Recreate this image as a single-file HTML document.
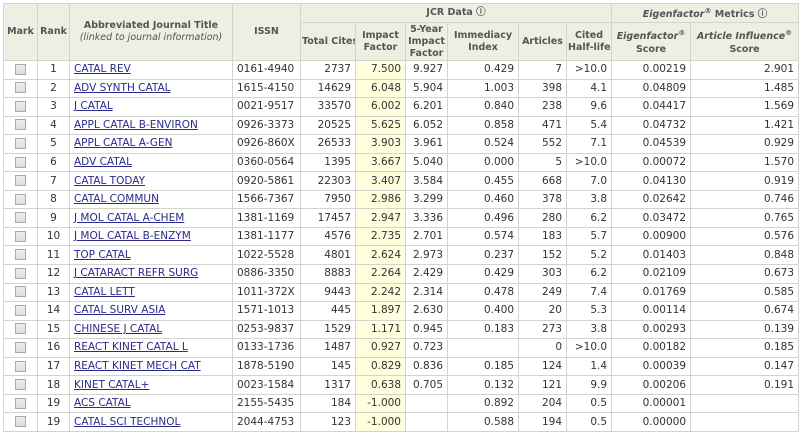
<!DOCTYPE html>
<html><head><meta charset="utf-8"><style>
body{margin:0;background:#fff;width:800px;height:435px;overflow:hidden;font-family:"DejaVu Sans",Verdana,sans-serif;}
table{position:absolute;left:3px;top:3px;border-collapse:collapse;table-layout:fixed;width:795px;font-size:10.5px;color:#333;}
td,th{border:1px solid #d4d4cc;padding:0 4px;white-space:nowrap;overflow:hidden;}
th{background:#eeeee2;color:#555;font-size:9.5px;font-weight:bold;line-height:12px;padding:0 1px;}
tr.h1 th{height:18px;}
tr.h2 th{height:37px;}
tbody td{height:17.55px;line-height:17px;}
td.c{text-align:center}
td.r{text-align:right}
td.y{background:#ffffdd;text-align:right}
td.t a{color:#2a2a8c;text-decoration:underline}
.cb{display:inline-block;width:9px;height:9px;border:1px solid #aaa;background:linear-gradient(#eee,#ddd);vertical-align:middle}
i{font-weight:bold}
.n{font-weight:normal;font-style:italic}
</style></head><body>
<table>
<colgroup><col style="width:34px"><col style="width:32px"><col style="width:163px"><col style="width:68px"><col style="width:55px"><col style="width:50px"><col style="width:42px"><col style="width:71px"><col style="width:48px"><col style="width:45px"><col style="width:79px"><col style="width:108px"></colgroup>
<thead>
<tr class="h1"><th rowspan="2">Mark</th><th rowspan="2">Rank</th><th rowspan="2">Abbreviated Journal Title<br><span class="n">(linked to journal information)</span></th><th rowspan="2">ISSN</th><th colspan="6">JCR Data ⓘ</th><th colspan="2"><i>Eigenfactor</i><sup style="font-size:7px">®</sup> Metrics ⓘ</th></tr>
<tr class="h2"><th>Total Cites</th><th>Impact<br>Factor</th><th>5-Year<br>Impact<br>Factor</th><th>Immediacy<br>Index</th><th>Articles</th><th>Cited<br>Half-life</th><th><i>Eigenfactor</i><sup style="font-size:7px">®</sup><br>Score</th><th><i>Article Influence</i><sup style="font-size:7px">®</sup><br>Score</th></tr>
</thead>
<tbody>
<tr><td class="c"><span class="cb"></span></td><td class="c">1</td><td class="t"><a>CATAL REV</a></td><td>0161-4940</td><td class="r">2737</td><td class="y">7.500</td><td class="r">9.927</td><td class="r">0.429</td><td class="r">7</td><td class="r">&gt;10.0</td><td class="r">0.00219</td><td class="r">2.901</td></tr>
<tr><td class="c"><span class="cb"></span></td><td class="c">2</td><td class="t"><a>ADV SYNTH CATAL</a></td><td>1615-4150</td><td class="r">14629</td><td class="y">6.048</td><td class="r">5.904</td><td class="r">1.003</td><td class="r">398</td><td class="r">4.1</td><td class="r">0.04809</td><td class="r">1.485</td></tr>
<tr><td class="c"><span class="cb"></span></td><td class="c">3</td><td class="t"><a>J CATAL</a></td><td>0021-9517</td><td class="r">33570</td><td class="y">6.002</td><td class="r">6.201</td><td class="r">0.840</td><td class="r">238</td><td class="r">9.6</td><td class="r">0.04417</td><td class="r">1.569</td></tr>
<tr><td class="c"><span class="cb"></span></td><td class="c">4</td><td class="t"><a>APPL CATAL B-ENVIRON</a></td><td>0926-3373</td><td class="r">20525</td><td class="y">5.625</td><td class="r">6.052</td><td class="r">0.858</td><td class="r">471</td><td class="r">5.4</td><td class="r">0.04732</td><td class="r">1.421</td></tr>
<tr><td class="c"><span class="cb"></span></td><td class="c">5</td><td class="t"><a>APPL CATAL A-GEN</a></td><td>0926-860X</td><td class="r">26533</td><td class="y">3.903</td><td class="r">3.961</td><td class="r">0.524</td><td class="r">552</td><td class="r">7.1</td><td class="r">0.04539</td><td class="r">0.929</td></tr>
<tr><td class="c"><span class="cb"></span></td><td class="c">6</td><td class="t"><a>ADV CATAL</a></td><td>0360-0564</td><td class="r">1395</td><td class="y">3.667</td><td class="r">5.040</td><td class="r">0.000</td><td class="r">5</td><td class="r">&gt;10.0</td><td class="r">0.00072</td><td class="r">1.570</td></tr>
<tr><td class="c"><span class="cb"></span></td><td class="c">7</td><td class="t"><a>CATAL TODAY</a></td><td>0920-5861</td><td class="r">22303</td><td class="y">3.407</td><td class="r">3.584</td><td class="r">0.455</td><td class="r">668</td><td class="r">7.0</td><td class="r">0.04130</td><td class="r">0.919</td></tr>
<tr><td class="c"><span class="cb"></span></td><td class="c">8</td><td class="t"><a>CATAL COMMUN</a></td><td>1566-7367</td><td class="r">7950</td><td class="y">2.986</td><td class="r">3.299</td><td class="r">0.460</td><td class="r">378</td><td class="r">3.8</td><td class="r">0.02642</td><td class="r">0.746</td></tr>
<tr><td class="c"><span class="cb"></span></td><td class="c">9</td><td class="t"><a>J MOL CATAL A-CHEM</a></td><td>1381-1169</td><td class="r">17457</td><td class="y">2.947</td><td class="r">3.336</td><td class="r">0.496</td><td class="r">280</td><td class="r">6.2</td><td class="r">0.03472</td><td class="r">0.765</td></tr>
<tr><td class="c"><span class="cb"></span></td><td class="c">10</td><td class="t"><a>J MOL CATAL B-ENZYM</a></td><td>1381-1177</td><td class="r">4576</td><td class="y">2.735</td><td class="r">2.701</td><td class="r">0.574</td><td class="r">183</td><td class="r">5.7</td><td class="r">0.00900</td><td class="r">0.576</td></tr>
<tr><td class="c"><span class="cb"></span></td><td class="c">11</td><td class="t"><a>TOP CATAL</a></td><td>1022-5528</td><td class="r">4801</td><td class="y">2.624</td><td class="r">2.973</td><td class="r">0.237</td><td class="r">152</td><td class="r">5.2</td><td class="r">0.01403</td><td class="r">0.848</td></tr>
<tr><td class="c"><span class="cb"></span></td><td class="c">12</td><td class="t"><a>J CATARACT REFR SURG</a></td><td>0886-3350</td><td class="r">8883</td><td class="y">2.264</td><td class="r">2.429</td><td class="r">0.429</td><td class="r">303</td><td class="r">6.2</td><td class="r">0.02109</td><td class="r">0.673</td></tr>
<tr><td class="c"><span class="cb"></span></td><td class="c">13</td><td class="t"><a>CATAL LETT</a></td><td>1011-372X</td><td class="r">9443</td><td class="y">2.242</td><td class="r">2.314</td><td class="r">0.478</td><td class="r">249</td><td class="r">7.4</td><td class="r">0.01769</td><td class="r">0.585</td></tr>
<tr><td class="c"><span class="cb"></span></td><td class="c">14</td><td class="t"><a>CATAL SURV ASIA</a></td><td>1571-1013</td><td class="r">445</td><td class="y">1.897</td><td class="r">2.630</td><td class="r">0.400</td><td class="r">20</td><td class="r">5.3</td><td class="r">0.00114</td><td class="r">0.674</td></tr>
<tr><td class="c"><span class="cb"></span></td><td class="c">15</td><td class="t"><a>CHINESE J CATAL</a></td><td>0253-9837</td><td class="r">1529</td><td class="y">1.171</td><td class="r">0.945</td><td class="r">0.183</td><td class="r">273</td><td class="r">3.8</td><td class="r">0.00293</td><td class="r">0.139</td></tr>
<tr><td class="c"><span class="cb"></span></td><td class="c">16</td><td class="t"><a>REACT KINET CATAL L</a></td><td>0133-1736</td><td class="r">1487</td><td class="y">0.927</td><td class="r">0.723</td><td class="r"></td><td class="r">0</td><td class="r">&gt;10.0</td><td class="r">0.00182</td><td class="r">0.185</td></tr>
<tr><td class="c"><span class="cb"></span></td><td class="c">17</td><td class="t"><a>REACT KINET MECH CAT</a></td><td>1878-5190</td><td class="r">145</td><td class="y">0.829</td><td class="r">0.836</td><td class="r">0.185</td><td class="r">124</td><td class="r">1.4</td><td class="r">0.00039</td><td class="r">0.147</td></tr>
<tr><td class="c"><span class="cb"></span></td><td class="c">18</td><td class="t"><a>KINET CATAL+</a></td><td>0023-1584</td><td class="r">1317</td><td class="y">0.638</td><td class="r">0.705</td><td class="r">0.132</td><td class="r">121</td><td class="r">9.9</td><td class="r">0.00206</td><td class="r">0.191</td></tr>
<tr><td class="c"><span class="cb"></span></td><td class="c">19</td><td class="t"><a>ACS CATAL</a></td><td>2155-5435</td><td class="r">184</td><td class="y">-1.000</td><td class="r"></td><td class="r">0.892</td><td class="r">204</td><td class="r">0.5</td><td class="r">0.00001</td><td class="r"></td></tr>
<tr><td class="c"><span class="cb"></span></td><td class="c">19</td><td class="t"><a>CATAL SCI TECHNOL</a></td><td>2044-4753</td><td class="r">123</td><td class="y">-1.000</td><td class="r"></td><td class="r">0.588</td><td class="r">194</td><td class="r">0.5</td><td class="r">0.00000</td><td class="r"></td></tr>
</tbody>
</table>
</body></html>
